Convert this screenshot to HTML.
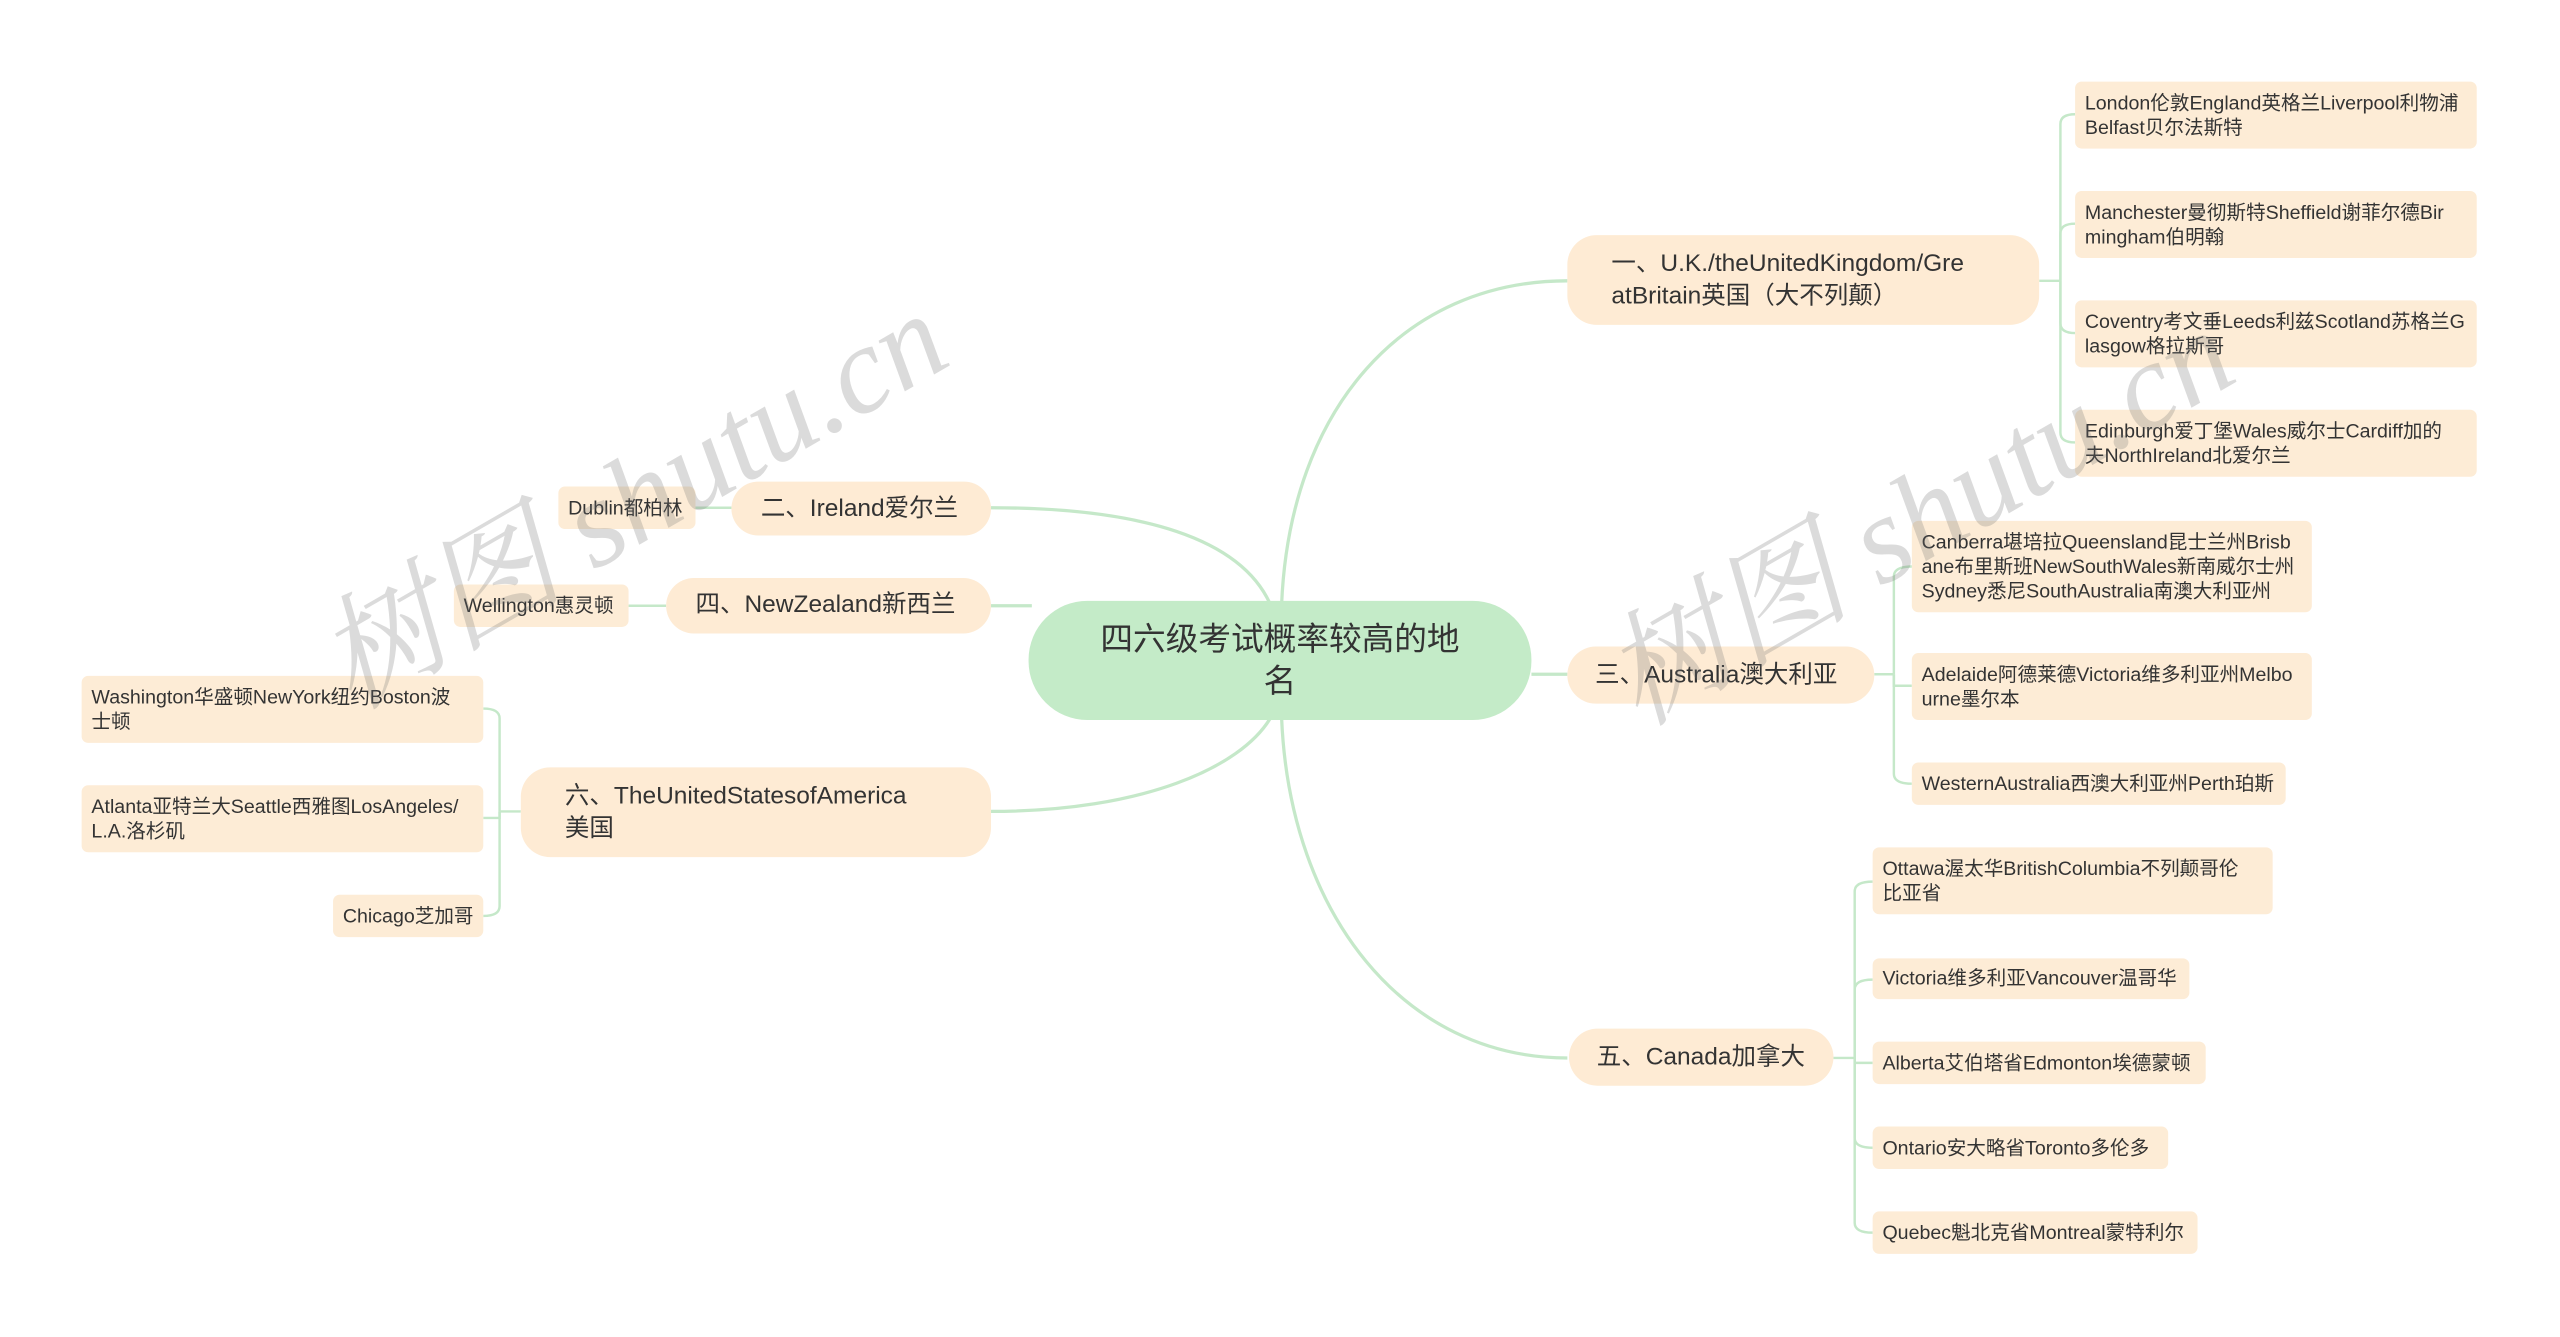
<!DOCTYPE html>
<html><head><meta charset="utf-8"><style>
html,body{margin:0;padding:0;background:#fff;width:2560px;height:1337px;overflow:hidden}
#c{position:absolute;left:0;top:0;width:1568px;height:819px;transform:scale(1.63265);transform-origin:0 0;font-family:"Liberation Sans","Noto Sans CJK SC",sans-serif;color:#333}
.n{position:absolute;box-sizing:border-box;display:flex;align-items:center;white-space:nowrap}
.r{background:#c4ebc8;border-radius:36px;justify-content:center;text-align:center;font-size:20px;line-height:26px}
.b{background:#feebd4;border-radius:18px;font-size:15px;line-height:20px}
.l{background:#fdecd6;border-radius:4px;font-size:12px;line-height:15px;padding-left:6px}
.w{position:absolute;font-family:"Liberation Serif","Noto Serif CJK SC",serif;font-style:italic;font-size:76px;color:rgba(110,110,110,0.25);white-space:nowrap;transform-origin:0 0}
svg{position:absolute;left:0;top:0}
</style></head><body><div id="c">
<svg width="1568" height="819" fill="none" stroke="#c5e8c9" stroke-width="2">
<path d="M785,370 C790,250 860,172 960,172"/>
<path d="M607,311 C700,311 760,330 778,370"/>
<path d="M607,371 L632,371"/>
<path d="M938,413 L960,413"/>
<path d="M607,497 C700,497 760,470 778,440"/>
<path d="M785,440 C790,560 860,648 960,648"/>
<g stroke-width="1.5">
<path d="M1249,172 H1262"/>
<path d="M1262,172 V76 Q1262,70 1271,70"/>
<path d="M1262,172 V143 Q1262,137 1271,137"/>
<path d="M1262,172 V198 Q1262,204 1271,204"/>
<path d="M1262,172 V265 Q1262,271 1271,271"/>
<path d="M1148,413 H1160"/>
<path d="M1160,413 V353 Q1160,347 1171,347"/>
<path d="M1160,413 V420 H1171"/>
<path d="M1160,413 V474 Q1160,480 1171,480"/>
<path d="M1123,648 H1136"/>
<path d="M1136,648 V546 Q1136,540 1147,540"/>
<path d="M1136,648 V606 Q1136,600 1147,600"/>
<path d="M1136,648 V651 H1147"/>
<path d="M1136,648 V697 Q1136,703 1147,703"/>
<path d="M1136,648 V749 Q1136,755 1147,755"/>
<path d="M319,497 H306"/>
<path d="M306,497 V440 Q306,434 296,434"/>
<path d="M306,497 V501 H296"/>
<path d="M306,497 V555 Q306,561 296,561"/>
<path d="M426,311 H448"/>
<path d="M385,371 H408"/>
</g>
</svg>
<div class="n r" style="left:630px;top:368px;width:308px;height:73px">四六级考试概率较高的地<br>名</div>
<div class="n b" style="left:960px;top:144px;width:289px;height:55px;padding-left:27px">一、U.K./theUnitedKingdom/Gre<br>atBritain英国（大不列颠）</div>
<div class="n b" style="left:448px;top:295px;width:159px;height:33px;padding-left:18px">二、Ireland爱尔兰</div>
<div class="n b" style="left:408px;top:354px;width:199px;height:34px;padding-left:18px">四、NewZealand新西兰</div>
<div class="n b" style="left:960px;top:396px;width:188px;height:35px;padding-left:17px">三、Australia澳大利亚</div>
<div class="n b" style="left:319px;top:470px;width:288px;height:55px;padding-left:27px">六、TheUnitedStatesofAmerica<br>美国</div>
<div class="n b" style="left:961px;top:630px;width:162px;height:35px;padding-left:17px">五、Canada加拿大</div>

<div class="n l" style="left:1271px;top:50px;width:246px;height:41px">London伦敦England英格兰Liverpool利物浦<br>Belfast贝尔法斯特</div>
<div class="n l" style="left:1271px;top:117px;width:246px;height:41px">Manchester曼彻斯特Sheffield谢菲尔德Bir<br>mingham伯明翰</div>
<div class="n l" style="left:1271px;top:184px;width:246px;height:41px">Coventry考文垂Leeds利兹Scotland苏格兰G<br>lasgow格拉斯哥</div>
<div class="n l" style="left:1271px;top:251px;width:246px;height:41px">Edinburgh爱丁堡Wales威尔士Cardiff加的<br>夫NorthIreland北爱尔兰</div>
<div class="n l" style="left:1171px;top:319px;width:245px;height:56px">Canberra堪培拉Queensland昆士兰州Brisb<br>ane布里斯班NewSouthWales新南威尔士州<br>Sydney悉尼SouthAustralia南澳大利亚州</div>
<div class="n l" style="left:1171px;top:400px;width:245px;height:41px">Adelaide阿德莱德Victoria维多利亚州Melbo<br>urne墨尔本</div>
<div class="n l" style="left:1171px;top:467px;width:229px;height:26px">WesternAustralia西澳大利亚州Perth珀斯</div>
<div class="n l" style="left:1147px;top:519px;width:245px;height:41px">Ottawa渥太华BritishColumbia不列颠哥伦<br>比亚省</div>
<div class="n l" style="left:1147px;top:587px;width:194px;height:25px">Victoria维多利亚Vancouver温哥华</div>
<div class="n l" style="left:1147px;top:638px;width:204px;height:26px">Alberta艾伯塔省Edmonton埃德蒙顿</div>
<div class="n l" style="left:1147px;top:690px;width:181px;height:26px">Ontario安大略省Toronto多伦多</div>
<div class="n l" style="left:1147px;top:742px;width:199px;height:26px">Quebec魁北克省Montreal蒙特利尔</div>
<div class="n l" style="left:342px;top:298px;width:84px;height:26px">Dublin都柏林</div>
<div class="n l" style="left:278px;top:358px;width:107px;height:26px">Wellington惠灵顿</div>
<div class="n l" style="left:50px;top:414px;width:246px;height:41px">Washington华盛顿NewYork纽约Boston波<br>士顿</div>
<div class="n l" style="left:50px;top:481px;width:246px;height:41px">Atlanta亚特兰大Seattle西雅图LosAngeles/<br>L.A.洛杉矶</div>
<div class="n l" style="left:204px;top:548px;width:92px;height:26px">Chicago芝加哥</div>

<div class="w" style="left:172px;top:360px;transform:rotate(-30deg)">树图 shutu.cn</div>
<div class="w" style="left:960px;top:370px;transform:rotate(-30deg)">树图 shutu.cn</div>
</div></body></html>
